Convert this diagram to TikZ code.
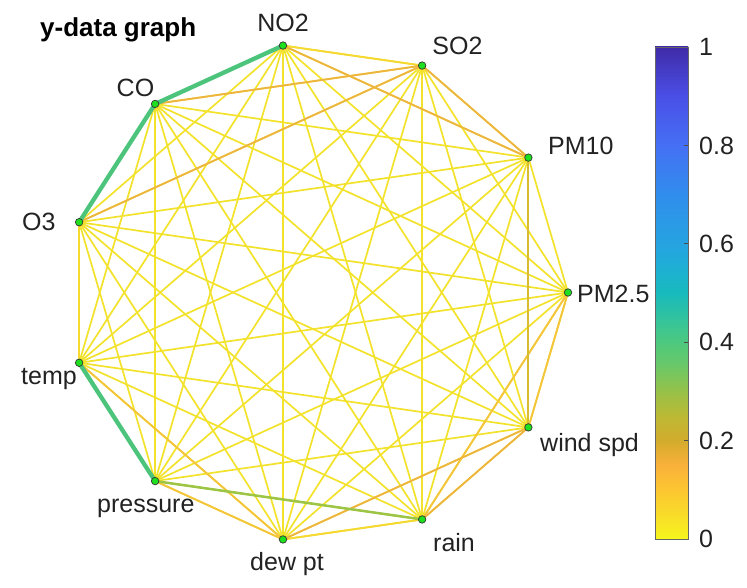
\documentclass[tikz,border=0pt]{standalone}
\usepackage{fontspec}
\setmainfont{Liberation Sans}
\definecolor{edef}{HTML}{F3E22B}
\definecolor{egreen}{HTML}{4CC47C}
\definecolor{eolive}{HTML}{9CC445}
\definecolor{eorange}{HTML}{EDB440}
\definecolor{eorangeL}{HTML}{F4C43A}
\definecolor{egold}{HTML}{D6BC2E}
\definecolor{elight}{HTML}{F5D830}
\definecolor{dotgreen}{HTML}{1EE01E}
\definecolor{lbltext}{HTML}{222222}
\definecolor{c00}{HTML}{F6F61C}
\definecolor{c05}{HTML}{F9DC2A}
\definecolor{c10}{HTML}{FCC630}
\definecolor{c15}{HTML}{FAB13B}
\definecolor{c20}{HTML}{D3AB2C}
\definecolor{c25}{HTML}{BCB934}
\definecolor{c30}{HTML}{97C148}
\definecolor{c35}{HTML}{6CC866}
\definecolor{c40}{HTML}{4DC97E}
\definecolor{c45}{HTML}{32C39E}
\definecolor{c50}{HTML}{18BABD}
\definecolor{c55}{HTML}{1EB0D4}
\definecolor{c60}{HTML}{26A3E1}
\definecolor{c70}{HTML}{308DEC}
\definecolor{c80}{HTML}{4570F5}
\definecolor{c90}{HTML}{4A4FE6}
\definecolor{c100}{HTML}{3F2BA8}
\begin{document}
\begin{tikzpicture}[x=1pt,y=-1pt,
  lbl/.style={font=\fontsize{25}{30}\selectfont, text=lbltext, inner sep=0pt},
  edgebase/.style={line width=1.7pt, color=edef, line cap=round},
  wedge/.style={line width=1.8pt, line cap=round},
  heavy/.style={line width=4.3pt, color=egreen, line cap=round},
  dot/.style={circle, fill=dotgreen, draw=black!80, line width=0.7pt, minimum size=7.5pt, inner sep=0pt}]
\useasboundingbox (0,0) rectangle (747,588);
% node positions on the circle
\foreach \k in {0,...,10}{
  \coordinate (n\k) at ({318.5+249.5*cos(\k*360/11)},{292.5-249.5*sin(\k*360/11)});
}
% all edges (complete graph)
\foreach \i in {0,...,9}{
  \pgfmathtruncatemacro\s{\i+1}
  \foreach \j in {\s,...,10}{
    \draw[edgebase] (n\i) -- (n\j);
  }
}
% coloured edges
\draw[wedge, color=elight] (n3) -- (n2);
\draw[wedge, color=elight] (n8) -- (n9);
\draw[wedge, color=elight] (n5) -- (n6);
\draw[wedge, color=eorangeL] (n7) -- (n8);
\draw[wedge, color=eorangeL] (n0) -- (n9);
\draw[wedge, color=eorangeL] (n0) -- (n10);
\draw[wedge, color=eorangeL] (n6) -- (n8);
\draw[wedge, color=eorange] (n3) -- (n1);
\draw[wedge, color=eorange] (n4) -- (n2);
\draw[wedge, color=eorange] (n5) -- (n2);
\draw[wedge, color=eorange] (n2) -- (n1);
\draw[wedge, color=eorange] (n10) -- (n9);
\draw[wedge, color=eorange] (n10) -- (n8);
\draw[wedge, color=egold] (n1) -- (n10);
\draw[line width=2.5pt, color=eolive, line cap=round] (n7) -- (n9);
\draw[heavy] (n3) -- (n4);
\draw[heavy] (n4) -- (n5);
\draw[heavy] (n6) -- (n7);
% dots
\foreach \k in {0,...,10}{
  \node[dot] (d\k) at (n\k) {};
}
% labels
\node[lbl, anchor=base] (lNO2) at (283,32) {NO2};
\node[lbl, anchor=base] (lSO2) at (457.5,54.5) {SO2};
\node[lbl, anchor=base west] (lPM10) at (548,155) {PM10};
\node[lbl, anchor=base west] (lPM25) at (577,302) {PM2.5};
\node[lbl, anchor=base west] (lwind) at (540,451.5) {wind spd};
\node[lbl, anchor=base west] (lrain) at (433,551.5) {rain};
\node[lbl, anchor=base west] (ldew) at (250,570) {dew pt};
\node[lbl, anchor=base west] (lpres) at (97,512.5) {pressure};
\node[lbl, anchor=base west] (ltemp) at (21,384.5) {temp};
\node[lbl, anchor=base west] (lO3) at (22,231) {O3};
\node[lbl, anchor=base west] (lCO) at (116.5,97) {CO};
\node[font=\bfseries\fontsize{26}{30}\selectfont, text=black, inner sep=0pt, anchor=base west] (title) at (40,37) {y-data graph};
% colorbar
\foreach \va/\ca/\vb/\cb in {0/c00/0.05/c05, 0.05/c05/0.1/c10, 0.1/c10/0.15/c15, 0.15/c15/0.2/c20, 0.2/c20/0.25/c25, 0.25/c25/0.3/c30, 0.3/c30/0.35/c35, 0.35/c35/0.4/c40, 0.4/c40/0.45/c45, 0.45/c45/0.5/c50, 0.5/c50/0.55/c55, 0.55/c55/0.6/c60, 0.6/c60/0.7/c70, 0.7/c70/0.8/c80, 0.8/c80/0.9/c90, 0.9/c90/1/c100}{
  \shade[bottom color=\ca, top color=\cb] (655,{539-492*\va+0.4}) rectangle (688,{539-492*\vb-0.4});
}
\draw[color=black!60, line width=0.9pt] (655,47) rectangle (688,539);
\foreach \v in {0.2,0.4,0.6,0.8}{
  \draw[color=black!70, line width=0.9pt] (688,{539-492*\v}) -- (683.5,{539-492*\v});
}
\foreach \v/\t in {0/0, 0.2/0.2, 0.4/0.4, 0.6/0.6, 0.8/0.8, 1/1}{
  \node[lbl, anchor=west] at (699,{539-492*\v}) {\t};
}
\end{tikzpicture}
\end{document}
